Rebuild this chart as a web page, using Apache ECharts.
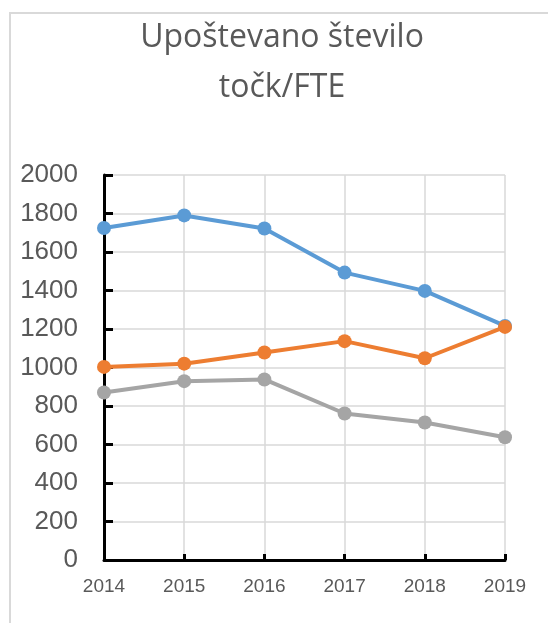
<!DOCTYPE html>
<html>
<head>
<meta charset="utf-8">
<script src="https://cdn.jsdelivr.net/npm/echarts@6/dist/echarts.min.js"></script>
<style>
html,body{margin:0;padding:0;background:#fff;}
#c{width:548px;height:623px;}
</style>
</head>
<body>
<div id="c"></div>
<script>
const categories = ['2014','2015','2016','2017','2018','2019'];
const blueValues = [1725, 1790, 1722, 1493, 1398, 1216];
const orangeValues = [1003, 1020, 1078, 1137, 1048, 1211];
const grayValues = [870, 929, 938, 761, 714, 638];
const titleText = 'Upoštevano število\ntočk/FTE';

const chart = echarts.init(document.getElementById('c'), null, {renderer:'canvas'});
function s(name, data, color){
  return {
    name, type:'line', data,
    symbol:'circle', symbolSize:14,
    lineStyle:{color, width:4},
    itemStyle:{color},
    animation:false
  };
}
chart.setOption({
  animation:false,
  backgroundColor:'#fff',
  title:{
    text:titleText,
    left:277, top:8, textAlign:'center',
    textStyle:{fontFamily:'Open Sans', fontSize:32, fontWeight:'normal', color:'#595959', lineHeight:50}
  },
  graphic:[{
    type:'polyline',
    shape:{points:[[10,623],[10,13],[548,13]]},
    style:{stroke:'#d9d9d9', lineWidth:2, fill:null}
  }],
  grid:{left:104, right:43, top:175, bottom:63, containLabel:false},
  xAxis:{
    type:'category', data:categories, boundaryGap:false,
    axisLine:{lineStyle:{color:'#000', width:3}},
    axisTick:{inside:true, length:6, lineStyle:{color:'#000', width:3}},
    splitLine:{show:true, lineStyle:{color:'#d9d9d9', width:1.5}},
    axisLabel:{fontFamily:'Liberation Sans', fontSize:19, color:'#595959', margin:17}
  },
  yAxis:{
    type:'value', min:0, max:2000, interval:200,
    axisLine:{show:true, lineStyle:{color:'#000', width:3}},
    axisTick:{show:true, inside:true, length:9, lineStyle:{color:'#000', width:3}},
    splitLine:{show:true, lineStyle:{color:'#d9d9d9', width:1.5}},
    axisLabel:{fontFamily:'Liberation Sans', fontSize:26, color:'#595959', margin:26, formatter:v=>String(v)}
  },
  series:[
    s('A', blueValues, '#5B9BD5'),
    s('B', orangeValues, '#ED7D31'),
    s('C', grayValues, '#A5A5A5')
  ]
});
</script>
</body>
</html>
